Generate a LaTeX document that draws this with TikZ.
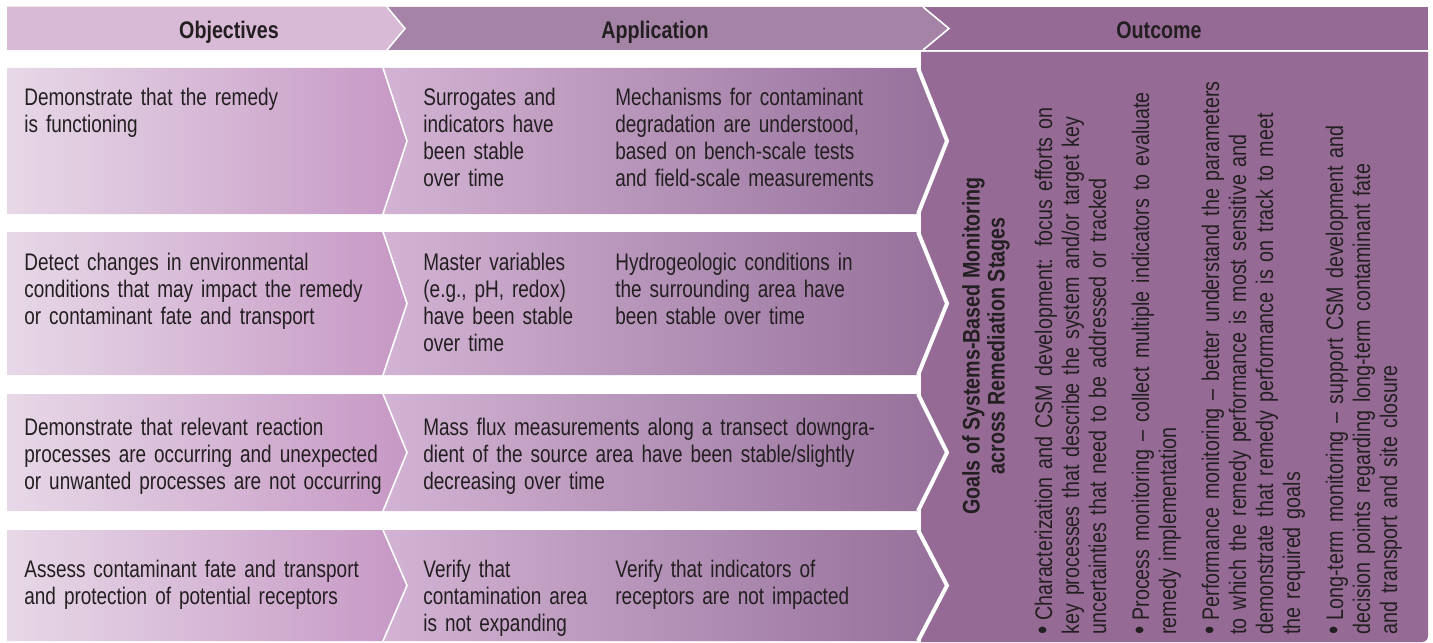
\documentclass[tikz,border=0pt]{standalone}
\usepackage{fontspec}
\setmainfont{Liberation Sans}[FakeStretch=0.82]
\newfontfamily\cellfont{Liberation Sans}[FakeStretch=0.79]
\usepackage{tikz}
\usetikzlibrary{positioning}
\definecolor{ink}{HTML}{231F20}
\definecolor{objhead}{HTML}{D8B9D6}
\definecolor{apphead}{HTML}{A483A7}
\definecolor{outhead}{HTML}{956B96}
\definecolor{objleft}{HTML}{E7D8E7}
\definecolor{objright}{HTML}{C698C5}
\definecolor{appleft}{HTML}{D3B3D4}
\definecolor{appright}{HTML}{95709A}
\definecolor{outpanel}{HTML}{956B96}
\newlength{\bulletw}
\setlength{\bulletw}{7pt}
\newcommand{\goalitem}[1]{\noindent\hangindent=\bulletw\hangafter=1\makebox[\bulletw][l]{\scalebox{1.2}{\textbullet}}#1\par}
\tikzset{
    %Define style for header labels
    headtext/.style={
           anchor=base,
           font=\fontsize{12}{13.5}\selectfont\bfseries,
           text=ink,
           inner sep=0pt},
    %Define style for row texts
    celltext/.style={
           anchor=base west,
           align=left,
           font=\fontsize{12}{13.5}\cellfont,
           text=ink,
           inner sep=0pt},
    goaltext/.style={
           celltext,
           font=\fontsize{12}{13.5}\selectfont,
           text width=290pt,
           rotate=90},
    titletext/.style={
           align=center,
           font=\fontsize{12}{12.5}\selectfont\bfseries,
           text=ink,
           inner sep=0pt,
           rotate=90},
    % Define band shadings
    objband/.style={left color=objleft, right color=objright},
    appband/.style={left color=appleft, right color=appright},
    % Define white edges
    seam/.style={draw=white, line width=0.8pt},
    cut/.style={draw=white, line width=2pt}
}
\begin{document}
\begin{tikzpicture}[x=0.5pt,y=-0.5pt]
\useasboundingbox (0,0) rectangle (1433,642);
%header
\fill[outhead] (7,7) rectangle (1428,50);
\fill[apphead] (7,7) -- (923,7) -- (949,28.5) -- (923,50) -- (7,50) -- cycle;
\fill[objhead] (7,7) -- (387,7) -- (405,28.5) -- (387,50) -- (7,50) -- cycle;
\draw[seam] (923,7) -- (949,28.5) -- (923,50);
\draw[seam] (387,7) -- (405,28.5) -- (387,50);
\node[headtext] (objtitle) at (229,39) {Objectives};
\node[headtext] (apptitle) at (655,39) {Application};
\node[headtext] (outtitle) at (1159,39) {Outcome};
%outcome panel
\fill[outpanel] (921,52) -- (1428,52) [rounded corners=3pt] -- (1428,642) [sharp corners] -- (921,642) -- cycle;
%rows
\shade[objband] (7,68) -- (383,68) -- (407,141) -- (383,214) -- (7,214) -- cycle;
\shade[appband] (383,68) -- (918,68) -- (947,141) -- (918,214) -- (383,214) -- (407,141) -- cycle;
\draw[seam] (383,68) -- (407,141) -- (383,214);
\draw[cut] (918,68) -- (947,141) -- (918,214);
\shade[objband] (7,232) -- (383,232) -- (407,303.5) -- (383,375) -- (7,375) -- cycle;
\shade[appband] (383,232) -- (918,232) -- (947,303.5) -- (918,375) -- (383,375) -- (407,303.5) -- cycle;
\draw[seam] (383,232) -- (407,303.5) -- (383,375);
\draw[cut] (918,232) -- (947,303.5) -- (918,375);
\shade[objband] (7,394) -- (383,394) -- (407,452.5) -- (383,511) -- (7,511) -- cycle;
\shade[appband] (383,394) -- (918,394) -- (947,452.5) -- (918,511) -- (383,511) -- (407,452.5) -- cycle;
\draw[seam] (383,394) -- (407,452.5) -- (383,511);
\draw[cut] (918,394) -- (947,452.5) -- (918,511);
\shade[objband] (7,530) -- (383,530) -- (407,585.5) -- (383,641) -- (7,641) -- cycle;
\shade[appband] (383,530) -- (918,530) -- (947,585.5) -- (918,641) -- (383,641) -- (407,585.5) -- cycle;
\draw[seam] (383,530) -- (407,585.5) -- (383,641);
\draw[cut] (918,530) -- (947,585.5) -- (918,641);
%row texts
\node[celltext, text width=190pt] (obj1) at (24,105) {Demonstrate that the remedy\\is functioning};
\node[celltext, text width=95pt] (app1a) at (423,105) {Surrogates and\\indicators have\\been stable\\over time};
\node[celltext, text width=140pt] (app1b) at (615,105) {Mechanisms for contaminant\\degradation are understood,\\based on bench-scale tests\\and field-scale measurements};
\node[celltext, text width=190pt] (obj2) at (24,270) {Detect changes in environmental\\conditions that may impact the remedy\\or contaminant fate and transport};
\node[celltext, text width=95pt] (app2a) at (423,270) {Master variables\\(e.g., pH, redox)\\have been stable\\over time};
\node[celltext, text width=140pt] (app2b) at (615,270) {Hydrogeologic conditions in\\the surrounding area have\\been stable over time};
\node[celltext, text width=190pt] (obj3) at (24,435) {Demonstrate that relevant reaction\\processes are occurring and unexpected\\or unwanted processes are not occurring};
\node[celltext, text width=250pt] (app3) at (423,435) {Mass flux measurements along a transect downgra-\\dient of the source area have been stable/slightly\\decreasing over time};
\node[celltext, text width=190pt] (obj4) at (24,577) {Assess contaminant fate and transport\\and protection of potential receptors};
\node[celltext, text width=95pt] (app4a) at (423,577) {Verify that\\contamination area\\is not expanding};
\node[celltext, text width=140pt] (app4b) at (615,577) {Verify that indicators of\\receptors are not impacted};
%outcome texts
\node[titletext] (goalstitle) at (986,346) {Goals of Systems-Based Monitoring\\across Remediation Stages};
\node[goaltext] (goals) at (1052,635) {\setlength{\parskip}{8pt}%
\goalitem{Characterization and CSM development: focus efforts on\\key processes that describe the system and/or target key\\uncertainties that need to be addressed or tracked}
\goalitem{Process monitoring -- collect multiple indicators to evaluate\\remedy implementation}
\goalitem{Performance monitoring -- better understand the parameters\\to which the remedy performance is most sensitive and\\demonstrate that remedy performance is on track to meet\\the required goals}
\goalitem{Long-term monitoring -- support CSM development and\\decision points regarding long-term contaminant fate\\and transport and site closure}};
\end{tikzpicture}
\end{document}
